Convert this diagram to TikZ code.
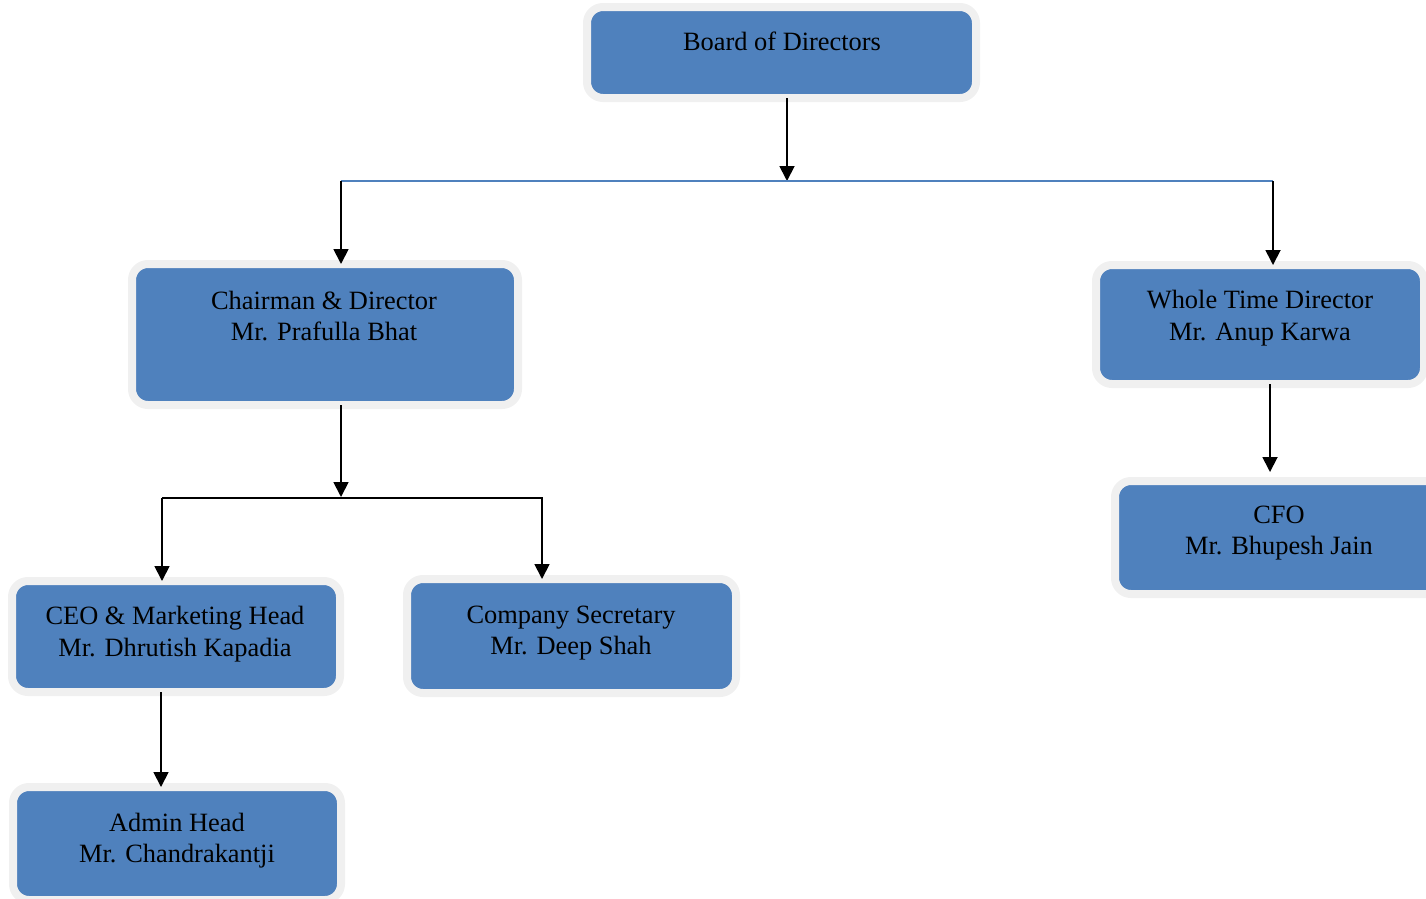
\documentclass[tikz,border=0pt]{standalone}
\usepackage{fontspec}
\setmainfont{Liberation Serif}
\usetikzlibrary{arrows.meta}
\definecolor{boxblue}{HTML}{4F81BD}
\definecolor{rimgray}{HTML}{F0F0F0}
\begin{document}
\begin{tikzpicture}[x=1pt,y=-1pt,
  orgbox/.style={draw=rimgray, line width=8pt, fill=boxblue, rounded corners=16pt, inner sep=0pt, outer sep=0pt},
  orgtext/.style={align=center, font=\fontsize{26.4}{31.5}\selectfont, inner sep=0pt},
  conn/.style={line width=1.8pt, -{Triangle[length=15pt,width=15pt]}},
  bus/.style={line width=1.8pt}]
\useasboundingbox (0,0) rectangle (1426,898);

% boxes
\node[orgbox, minimum width=389pt, minimum height=91pt] (board) at (781.5,52.5) {};
\node[orgbox, minimum width=386pt, minimum height=141pt] (chair) at (325,334.5) {};
\node[orgbox, minimum width=328pt, minimum height=119pt] (whole) at (1260,324.5) {};
\node[orgbox, minimum width=329pt, minimum height=113pt] (cfo) at (1279.5,537.5) {};
\node[orgbox, minimum width=328pt, minimum height=111pt] (ceo) at (176,636.5) {};
\node[orgbox, minimum width=329pt, minimum height=114pt] (cs) at (571.5,636) {};
\node[orgbox, minimum width=328pt, minimum height=113pt] (admin) at (177,843.5) {};

% texts
\node[orgtext] (boardT) at (782,41) {Board of Directors};
\node[orgtext] (chairT) at (324,316) {Chairman \& Director\\Mr. Prafulla Bhat};
\node[orgtext] (wholeT) at (1260,318) {Whole Time Director\\Mr. Anup Karwa};
\node[orgtext] (cfoT) at (1279,533) {CFO\\Mr. Bhupesh Jain};
\node[orgtext] (ceoT) at (175,634) {CEO \& Marketing Head\\Mr. Dhrutish Kapadia};
\node[orgtext] (csT) at (571,633) {Company Secretary\\Mr. Deep Shah};
\node[orgtext] (adminT) at (177,840.5) {Admin Head\\Mr. Chandrakantji};

% connectors
\coordinate (b1) at (787,181);
\coordinate (bL) at (341,181);
\coordinate (bR) at (1273,181);
\draw[conn] (board.south -| b1) -- (b1);
\draw[bus, draw=boxblue] (bL) -- (bR);
\draw[conn] (bL) -- (chair.north -| bL);
\draw[conn] (bR) -- (whole.north -| bR);

\coordinate (c1) at (341,497);
\coordinate (cL) at (162,498);
\coordinate (cR) at (543,498);
\coordinate (cR2) at (542,499);
\draw[conn] (chair.south -| c1) -- (c1);
\draw[bus] (cL) -- (cR);
\draw[conn] (cL) -- (ceo.north -| cL);
\draw[conn] (cR2) -- (cs.north -| cR2);

\coordinate (d1) at (161,700);
\draw[conn] (ceo.south -| d1) -- (admin.north -| d1);

\coordinate (w1) at (1270,400);
\draw[conn, shorten >=9pt] (whole.south -| w1) -- (cfo.north -| w1);
\end{tikzpicture}
\end{document}
